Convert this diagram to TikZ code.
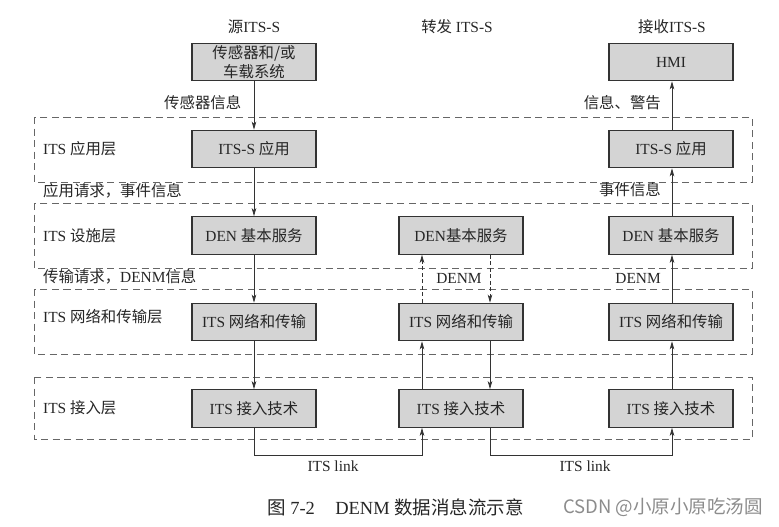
\documentclass[tikz,border=0pt]{standalone}
\usepackage{fontspec}
\setmainfont{Liberation Serif}
\newfontfamily\cjk{Noto Sans CJK SC}
\usetikzlibrary{arrows.meta}
\newcommand\zh[1]{{\cjk #1}}
\definecolor{boxfill}{HTML}{D4D4D4}
\definecolor{inkc}{HTML}{333333}
\tikzset{
  box/.style={draw=inkc, line width=1.1pt, fill=boxfill, minimum width=124pt, minimum height=37.5pt, inner sep=1pt, align=center, font=\fontsize{15.4}{18}\selectfont, text=black!85},
  lbl/.style={font=\fontsize{15.4}{18}\selectfont, text=black!85, inner sep=0pt},
  layer/.style={draw=black!60, line width=0.9pt, dash pattern=on 7pt off 4.5pt},
  arr/.style={draw=inkc, line width=0.8pt, -{Stealth[length=8pt,width=4.5pt,inset=2pt]}},
  ln/.style={draw=inkc, line width=0.8pt}
}
\begin{document}
\begin{tikzpicture}[x=1pt,y=-1pt]
\useasboundingbox[fill=white] (0,0) rectangle (779,527);
% layers
\draw[layer] (34,117) rectangle (752,182);
\draw[layer] (34,203) rectangle (752,268);
\draw[layer] (34,289) rectangle (752,354);
\draw[layer] (34,377) rectangle (752,439);
% column titles
\node[lbl] (t1) at (254,27) {\zh{源}ITS-S};
\node[lbl] (t2) at (457,27) {\zh{转发} ITS-S};
\node[lbl] (t3) at (672,27) {\zh{接收}ITS-S};
% layer labels
\node[lbl,anchor=west] (l1) at (43,149) {ITS \zh{应用层}};
\node[lbl,anchor=west] (l2) at (43,236) {ITS \zh{设施层}};
\node[lbl,anchor=west] (l3) at (43,317) {ITS \zh{网络和传输层}};
\node[lbl,anchor=west] (l4) at (43,408) {ITS \zh{接入层}};
% source column
\node[box] (ssen) at (254,62) {\zh{传感器和/或}\\[1pt]\zh{车载系统}};
\node[box] (sapp) at (254,149) {ITS-S \zh{应用}};
\node[box] (sden) at (254,235.5) {DEN \zh{基本服务}};
\node[box] (snet) at (254,322) {ITS \zh{网络和传输}};
\node[box] (sacc) at (254,408.5) {ITS \zh{接入技术}};
% forwarding column
\node[box] (mden) at (461,235.5) {DEN\zh{基本服务}};
\node[box] (mnet) at (461,322) {ITS \zh{网络和传输}};
\node[box] (macc) at (461,408.5) {ITS \zh{接入技术}};
% receiving column
\node[box] (rhmi) at (671,62) {HMI};
\node[box] (rapp) at (671,149) {ITS-S \zh{应用}};
\node[box] (rden) at (671,235.5) {DEN \zh{基本服务}};
\node[box] (rnet) at (671,322) {ITS \zh{网络和传输}};
\node[box] (racc) at (671,408.5) {ITS \zh{接入技术}};
% connector labels
\node[lbl,anchor=west] (c1) at (164,103) {\zh{传感器信息}};
\node[lbl,anchor=west] (c2) at (43,191) {\zh{应用请求，事件信息}};
\node[lbl,anchor=west] (c3) at (43,277) {\zh{传输请求，}DENM\zh{信息}};
\node[lbl,anchor=east] (c4) at (661,103) {\zh{信息、警告}};
\node[lbl,anchor=east] (c5) at (661,190) {\zh{事件信息}};
\node[lbl] (c6) at (459,278) {DENM};
\node[lbl,anchor=east] (c7) at (661,278) {DENM};
\node[lbl] (k1) at (333,466) {ITS link};
\node[lbl] (k2) at (585,466) {ITS link};
% source arrows
\draw[arr] (ssen) -- (sapp);
\draw[arr] (sapp) -- (sden);
\draw[arr] (sden) -- (snet);
\draw[arr] (snet) -- (sacc);
% link source -> forwarding
\draw[arr] (sacc.south) -- ++(0,28) -| ([xshift=-39pt]macc.south);
% forwarding up path
\draw[arr] ([xshift=-39pt]macc.north) -- ([xshift=-39pt]mnet.south);
\draw[arr,dash pattern=on 4pt off 2.5pt] ([xshift=-39pt]mnet.north) -- ([xshift=-39pt]mden.south);
% forwarding down path
\draw[arr,dash pattern=on 4pt off 2.5pt] ([xshift=29pt]mden.south) -- ([xshift=29pt]mnet.north);
\draw[arr] ([xshift=29pt]mnet.south) -- ([xshift=29pt]macc.north);
% link forwarding -> receiving
\draw[arr] ([xshift=29pt]macc.south) -- ++(0,28) -| ([xshift=1pt]racc.south);
% receiving arrows
\draw[arr] ([xshift=1pt]racc.north) -- ([xshift=1pt]rnet.south);
\draw[arr] ([xshift=1pt]rnet.north) -- ([xshift=1pt]rden.south);
\draw[arr] ([xshift=1pt]rden.north) -- ([xshift=1pt]rapp.south);
\draw[arr] ([xshift=1pt]rapp.north) -- ([xshift=1pt]rhmi.south);
% caption and watermark
\node[lbl,anchor=west,font=\fontsize{18.5}{22}\selectfont] (cap) at (267,507) {\zh{图} 7-2\hspace{1.1em}DENM \zh{数据消息流示意}};
\node[anchor=west, inner sep=0pt, text=black!45, font=\cjk\fontsize{18.5}{22}\selectfont] (wm) at (563,507) {CSDN @小原小原吃汤圆};
\end{tikzpicture}
\end{document}
